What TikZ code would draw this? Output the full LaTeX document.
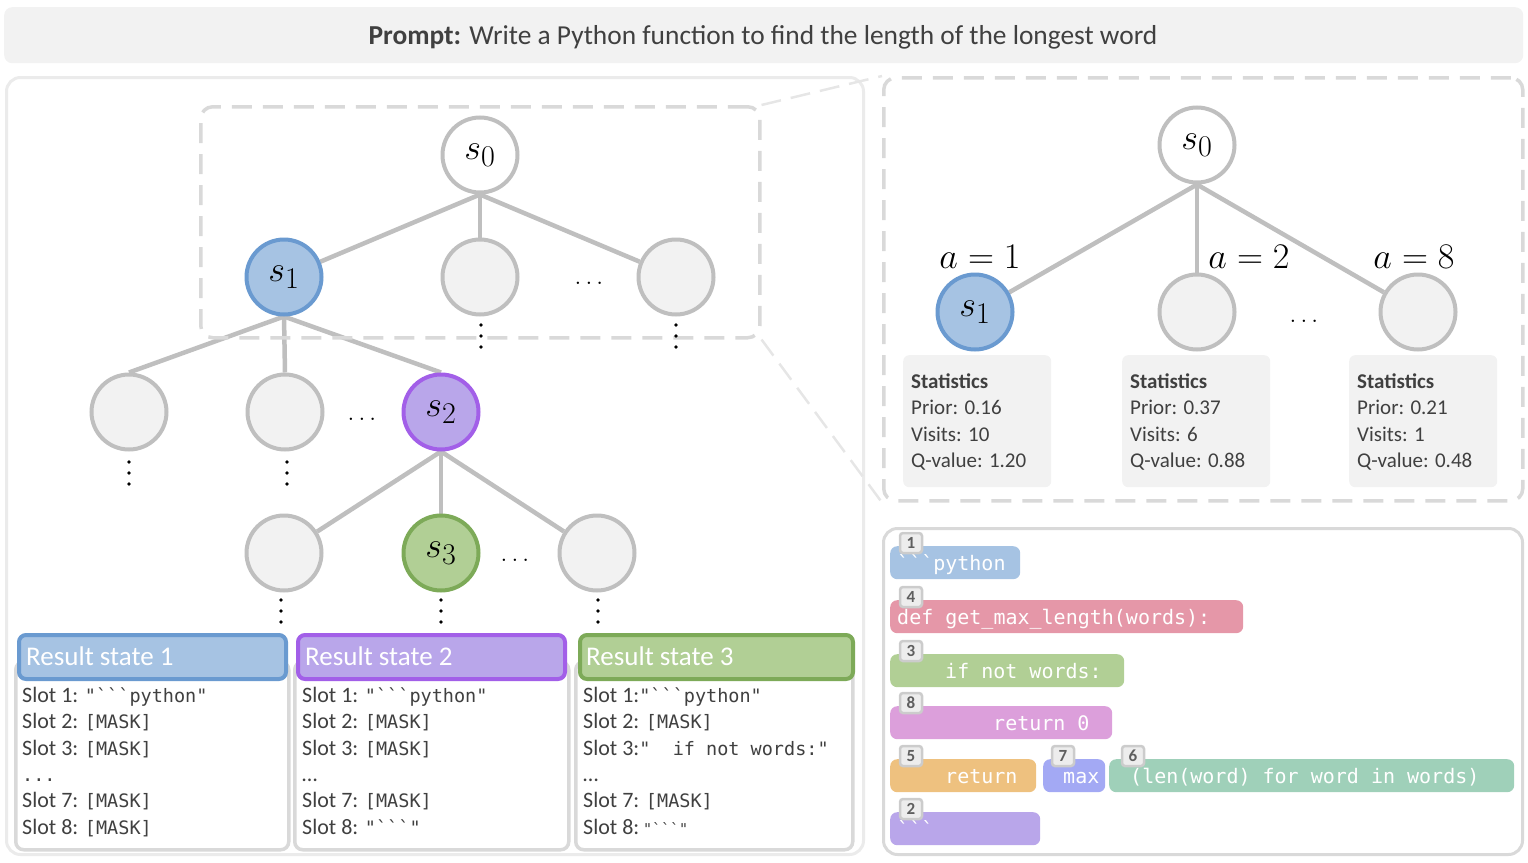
\documentclass[tikz,border=0pt]{standalone}
\usepackage{fontspec}
\setmainfont{Carlito}
\setmonofont{DejaVu Sans Mono}
\usetikzlibrary{backgrounds}
\definecolor{ngray}{HTML}{BFBFBF}
\definecolor{nfill}{HTML}{F2F2F2}
\definecolor{bluef}{HTML}{A6C3E3}
\definecolor{blued}{HTML}{6A9AD0}
\definecolor{purf}{HTML}{B9A6EA}
\definecolor{purd}{HTML}{A25FE8}
\definecolor{grnf}{HTML}{B1CF95}
\definecolor{grnd}{HTML}{7DAA58}
\definecolor{txt}{HTML}{404040}
\definecolor{dashc}{HTML}{D9D9D9}
\definecolor{panelc}{HTML}{EBEBEB}
\definecolor{zoomc}{HTML}{E6E6E6}
\definecolor{pinkf}{HTML}{E597A8}
\definecolor{magf}{HTML}{DC9FDB}
\definecolor{orgf}{HTML}{EEC17F}
\definecolor{perf}{HTML}{A3A9F4}
\definecolor{tealf}{HTML}{9FD0B9}
\definecolor{badgef}{HTML}{EDEDED}
\definecolor{badged}{HTML}{CCCCCC}
\definecolor{badget}{HTML}{5F5F5F}
\newcommand{\bt}{\char"60\relax}
\newcommand{\mfont}{\fontsize{24.88}{30}\selectfont}
\newcommand{\bm}[1]{\scalebox{1.45}{$#1$}}
\newcommand{\slotfont}{\fontsize{22}{26}\selectfont}
\newcommand{\scode}[1]{{\fontsize{18.5}{22}\selectfont\ttfamily #1}}
\newcommand{\vdts}[2]{\fill (#1,#2) circle (1.8) (#1,#2+11) circle (1.8) (#1,#2+22) circle (1.8);}
\newcommand{\cblock}[7]{%
  \node[cblk, fill=#5, minimum width={#4pt-#2pt}, anchor=north west] (#1) at (#2,#3) {};
  \node[ctext, anchor=base west] (#1t) at (#6,#3+24) {#7};
}
\newcommand{\badge}[4]{\node[badgebox] (#1) at (#2,#3) {#4};}
\tikzset{
  tn/.style={circle, minimum size=75pt, inner sep=0pt, line width=4pt, draw=ngray, fill=nfill, font=\mfont},
  tblue/.style={tn, draw=blued, fill=bluef},
  tpur/.style={tn, draw=purd, fill=purf},
  tgrn/.style={tn, draw=grnd, fill=grnf},
  troot/.style={tn, fill=white},
  edge/.style={draw=ngray, line width=4.5pt},
  hdots/.style={font=\fontsize{24}{28}\selectfont, anchor=base, inner sep=0pt},
  mlab/.style={font=\mfont, anchor=base, inner sep=0pt},
  dashbox/.style={draw=dashc, line width=3.5pt, dash pattern=on 20pt off 11pt, rounded corners=12pt, anchor=north west, inner sep=0pt},
  zoomline/.style={draw=zoomc, line width=2.5pt, dash pattern=on 20pt off 10pt},
  panel/.style={draw=panelc, line width=3pt, rounded corners=14pt, anchor=north west, inner sep=0pt},
  body/.style={draw=dashc, fill=white, line width=3.5pt, rounded corners=8pt, anchor=north west, inner sep=0pt},
  header/.style={line width=4pt, rounded corners=7pt, anchor=north west, inner sep=0pt},
  htext/.style={text=white, font=\fontsize{27}{31}\selectfont, anchor=base west, inner sep=0pt},
  slot/.style={text=txt, font=\slotfont, anchor=base west, inner sep=0pt},
  statbox/.style={fill=nfill, rounded corners=6pt, anchor=north west, inner sep=0pt, minimum width=148pt, minimum height=132pt},
  stat/.style={text=txt, font=\fontsize{21}{25}\selectfont, anchor=base west, inner sep=0pt},
  cblk/.style={rounded corners=7pt, minimum height=33pt, inner sep=0pt},
  ctext/.style={text=white, font=\fontsize{20}{24}\selectfont\ttfamily, inner sep=0pt},
  badgebox/.style={fill=badgef, draw=badged, line width=2.5pt, rounded corners=3pt, minimum width=22pt, minimum height=20pt, inner sep=0pt, text=badget, font=\fontsize{17}{20}\selectfont\bfseries},
}
\begin{document}
\begin{tikzpicture}[x=1pt,y=-1pt]
\useasboundingbox (0,0) rectangle (1528,862);
% prompt bar
\node[fill=nfill, rounded corners=8pt, minimum width=1519pt, minimum height=56pt, anchor=north west, inner sep=0pt] (prompt) at (4,7) {};
\node[text=txt, font=\fontsize{27.4}{32}\selectfont, anchor=base, inner sep=0pt] (promptt) at (763,44) {\textbf{Prompt:} Write a Python function to find the length of the longest word};
% panels
\node[panel, minimum width=857pt, minimum height=777pt] (leftpanel) at (5,76) {};
\node[dashbox, minimum width=639pt, minimum height=423pt] (statpanel) at (882,76) {};
\node[panel, draw=dashc, minimum width=639pt, minimum height=326pt] (codepanel) at (882,527) {};
\node[dashbox, minimum width=559pt, minimum height=231pt] (zoombox) at (199,105) {};
% zoom lines
\draw[zoomline] (zoombox.north east) -- (statpanel.north west);
\draw[zoomline] (zoombox.south east) -- (statpanel.south west);
% left tree
\node[troot] (L0) at (480,155) {\bm{s_0}};
\node[tblue] (L1a) at (284,277) {\bm{s_1}};
\node[tn] (L1b) at (480,277) {};
\node[tn] (L1c) at (676,277) {};
\node[hdots] (L1d) at (589,284) {$\dots$};
\node[tn] (L2a) at (129,412) {};
\node[tn] (L2b) at (285,412) {};
\node[tpur] (L2c) at (441,412) {\bm{s_2}};
\node[hdots] (L2d) at (362,420) {$\dots$};
\node[tn] (L3a) at (284,553) {};
\node[tgrn] (L3b) at (441,553) {\bm{s_3}};
\node[tn] (L3c) at (597,553) {};
\node[hdots] (L3d) at (515,561) {$\dots$};
\begin{scope}[on background layer]
\draw[edge] (L0.south) -- (L1a);
\draw[edge] (L0.south) -- (L1b);
\draw[edge] (L0.south) -- (L1c);
\draw[edge] (L1a.south) -- (L2a.north);
\draw[edge] (L1a.south) -- (L2b.north);
\draw[edge] (L1a.south) -- (L2c.north);
\draw[edge] (L2c.south) -- (L3a);
\draw[edge] (L2c.south) -- (L3b);
\draw[edge] (L2c.south) -- (L3c);
\end{scope}
\vdts{481}{325}
\vdts{676}{325}
\vdts{129}{462}
\vdts{287}{462}
\vdts{281}{600}
\vdts{441}{600}
\vdts{598}{600}
% result states
\node[body, minimum width=273pt, minimum height=188pt] (b1) at (14,660) {};
\node[body, minimum width=274pt, minimum height=188pt] (b2) at (293,660) {};
\node[body, minimum width=277pt, minimum height=188pt] (b3) at (574,660) {};
\node[header, draw=blued, fill=bluef, minimum width=267pt, minimum height=44pt] (h1) at (17,633) {};
\node[header, draw=purd, fill=purf, minimum width=267pt, minimum height=44pt] (h2) at (296,633) {};
\node[header, draw=grnd, fill=grnf, minimum width=273pt, minimum height=44pt] (h3) at (578,633) {};
\node[htext] (h1t) at (26,665) {Result state 1};
\node[htext] (h2t) at (305,665) {Result state 2};
\node[htext] (h3t) at (586,665) {Result state 3};
% box 1 slots
\node[slot] (s11) at (22,702) {Slot 1: \scode{"\bt\bt\bt python"}};
\node[slot] (s12) at (22,728.5) {Slot 2: \scode{[MASK]}};
\node[slot] (s13) at (22,755) {Slot 3: \scode{[MASK]}};
\node[slot] (s14) at (22,781) {\scode{...}};
\node[slot] (s15) at (22,807.5) {Slot 7: \scode{[MASK]}};
\node[slot] (s16) at (22,834) {Slot 8: \scode{[MASK]}};
% box 2 slots
\node[slot] (s21) at (302,702) {Slot 1: \scode{"\bt\bt\bt python"}};
\node[slot] (s22) at (302,728.5) {Slot 2: \scode{[MASK]}};
\node[slot] (s23) at (302,755) {Slot 3: \scode{[MASK]}};
\node[slot] (s24) at (302,781) {…};
\node[slot] (s25) at (302,807.5) {Slot 7: \scode{[MASK]}};
\node[slot] (s26) at (302,834) {Slot 8: \scode{"\bt\bt\bt"}};
% box 3 slots
\node[slot] (s31) at (583,702) {Slot 1:\scode{"\bt\bt\bt python"}};
\node[slot] (s32) at (583,728.5) {Slot 2: \scode{[MASK]}};
\node[slot] (s33) at (583,755) {Slot 3:\scode{"\ \ if not words:"}};
\node[slot] (s34) at (583,781) {…};
\node[slot] (s35) at (583,807.5) {Slot 7: \scode{[MASK]}};
\node[slot] (s36) at (583,834) {Slot 8:\,{\fontsize{15}{18}\selectfont\ttfamily"\bt\bt\bt"}};
% right tree
\node[troot] (R0) at (1197,145) {\bm{s_0}};
\node[tblue] (R1) at (975,312) {\bm{s_1}};
\node[tn] (R2) at (1197,312) {};
\node[tn] (R3) at (1418,312) {};
\node[hdots] (Rd) at (1304,322) {$\dots$};
\begin{scope}[on background layer]
\draw[edge] (R0.south) -- (R1);
\draw[edge] (R0.south) -- (R2);
\draw[edge] (R0.south) -- (R3);
\end{scope}
\node[mlab] (la1) at (980,268) {\bm{a=1}};
\node[mlab] (la2) at (1249,268) {\bm{a=2}};
\node[mlab] (la3) at (1414,268) {\bm{a=8}};
% statistics
\node[statbox] (st1) at (903,355) {};
\node[statbox] (st2) at (1122,355) {};
\node[statbox] (st3) at (1349,355) {};
\node[stat] (st1a) at (911,388) {\textbf{Statistics}};
\node[stat] (st1b) at (911,414.5) {Prior: 0.16};
\node[stat] (st1c) at (911,441) {Visits: 10};
\node[stat] (st1d) at (911,467.5) {Q-value: 1.20};
\node[stat] (st2a) at (1130,388) {\textbf{Statistics}};
\node[stat] (st2b) at (1130,414.5) {Prior: 0.37};
\node[stat] (st2c) at (1130,441) {Visits: 6};
\node[stat] (st2d) at (1130,467.5) {Q-value: 0.88};
\node[stat] (st3a) at (1357,388) {\textbf{Statistics}};
\node[stat] (st3b) at (1357,414.5) {Prior: 0.21};
\node[stat] (st3c) at (1357,441) {Visits: 1};
\node[stat] (st3d) at (1357,467.5) {Q-value: 0.48};
% code blocks
\cblock{c1}{890}{546}{1020}{bluef}{897}{\bt\bt\bt python}
\cblock{c4}{890}{600}{1243}{pinkf}{897}{def get\_max\_length(words):}
\cblock{c3}{890}{654}{1124}{grnf}{945}{if not words:}
\cblock{c8}{890}{706}{1112}{magf}{993}{return 0}
\cblock{c5}{890}{759}{1036}{orgf}{945}{return}
\cblock{c7}{1043}{759}{1105}{perf}{1063}{max}
\cblock{c6}{1109}{759}{1514}{tealf}{1130}{(len(word) for word in words)}
\cblock{c2}{890}{812}{1040}{purf}{897}{\bt\bt\bt}
\badge{k1}{911}{543}{1}
\badge{k4}{911}{597}{4}
\badge{k3}{911}{651}{3}
\badge{k8}{911}{703}{8}
\badge{k5}{911}{756}{5}
\badge{k7}{1063}{756}{7}
\badge{k6}{1133}{756}{6}
\badge{k2}{911}{809}{2}
\end{tikzpicture}
\end{document}
